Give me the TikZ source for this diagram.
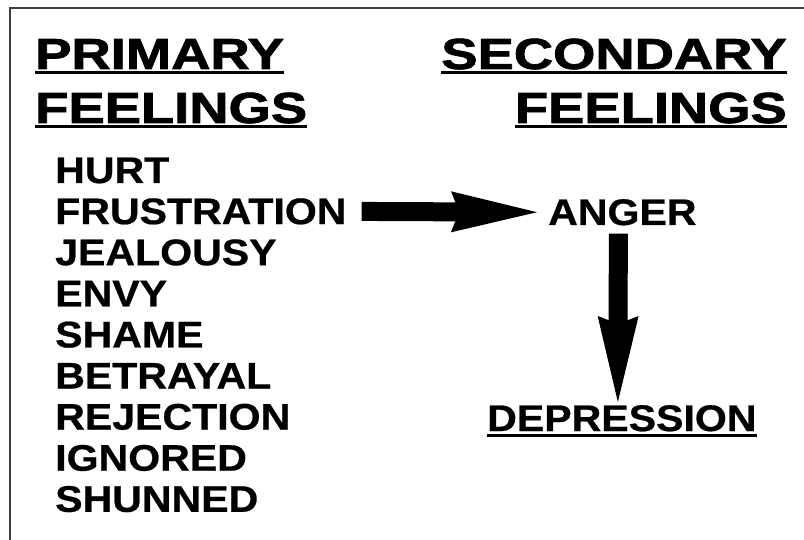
\documentclass[tikz,border=0pt]{standalone}
\usepackage{fontspec}
\setmainfont{Liberation Sans}[BoldFeatures={FakeBold=0.6}]
\newfontfamily\headfont{Liberation Sans}[BoldFeatures={FakeBold=1.6}]
\usetikzlibrary{arrows.meta}

\tikzset{
    heading/.style={inner sep=0pt,xscale=1.25,font=\headfont\fontsize{43.5}{43.5}\selectfont\bfseries},
    feeling/.style={inner sep=0pt,xscale=1.11,anchor=base west,font=\fontsize{37}{37}\selectfont\bfseries},
    uline/.style={line width=3pt},
    bigarrow/.style={line width=19pt,-{Stealth[length=86pt,width=41pt,inset=8pt,line width=0pt]}}
}

\begin{document}
\begin{tikzpicture}[x=1pt,y=-1pt]
        \useasboundingbox (0,0) rectangle (804,540);
        \draw[black!75,line width=1.6pt] (10,540)--(10,8)--(804,8);

        % headings
        \node[heading,anchor=base west] (prim) at (35,69) {PRIMARY};
        \node[heading,anchor=base west] (primf) at (35,123) {FEELINGS};
        \node[heading,anchor=base east] (sec) at (787,69) {SECONDARY};
        \node[heading,anchor=base east] (secf) at (787,123) {FEELINGS};
        \draw[uline] ([yshift=-4pt]prim.base west)--([yshift=-4pt]prim.base east);
        \draw[uline] ([yshift=-4pt]primf.base west)--([yshift=-4pt]primf.base east);
        \draw[uline] ([yshift=-4pt]sec.base west)--([yshift=-4pt]sec.base east);
        \draw[uline] ([yshift=-4pt]secf.base west)--([yshift=-4pt]secf.base east);

        % primary feelings
        \node[feeling] (hurt) at (55,183) {HURT};
        \node[feeling] (frus) at (55,224.1) {FRUSTRATION};
        \node[feeling] (jeal) at (55,265.2) {JEALOUSY};
        \node[feeling] (envy) at (55,306.3) {ENVY};
        \node[feeling] (shame) at (55,347.4) {SHAME};
        \node[feeling] (betr) at (55,388.5) {BETRAYAL};
        \node[feeling] (rej) at (55,429.6) {REJECTION};
        \node[feeling] (ign) at (55,470.7) {IGNORED};
        \node[feeling] (shun) at (55,511.8) {SHUNNED};

        % secondary feelings
        \node[feeling] (anger) at (548,225) {ANGER};
        \node[feeling] (depr) at (487,431) {DEPRESSION};
        \draw[uline] ([yshift=-4pt]depr.base west)--([yshift=-4pt]depr.base east);

        \draw[bigarrow,shorten <=15pt,shorten >=11pt] (frus.east)--(anger.west);
        \draw[bigarrow,shorten <=8pt,shorten >=3pt] ([xshift=-4pt]anger.south)--([xshift=-4pt]depr.north);
    \end{tikzpicture}
\end{document}
